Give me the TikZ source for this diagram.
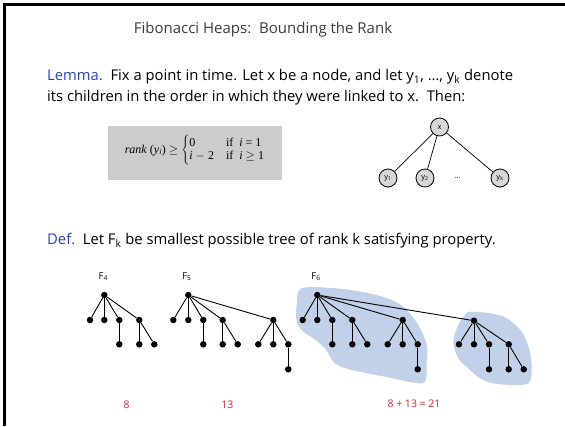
\documentclass[tikz,border=0pt]{standalone}
\usepackage{fontspec}
\setmainfont{Open Sans}
\newfontfamily\tms{Liberation Serif}
\definecolor{lemblue}{RGB}{40,70,170}
\definecolor{numred}{RGB}{210,40,45}
\definecolor{blobblue}{RGB}{193,209,233}
\definecolor{boxgray}{RGB}{204,204,204}
\definecolor{nodegray}{RGB}{215,215,215}
\definecolor{titlegray}{RGB}{60,60,60}
\tikzset{
  dot/.style={circle,fill=black,inner sep=0pt,minimum size=6.5pt},
  edge/.style={line width=0.9pt},
  gnode/.style={circle,draw=black,fill=nodegray,line width=0.8pt,inner sep=0pt,minimum size=18pt,font=\fontsize{7.5}{8}\selectfont},
  body/.style={anchor=west,inner sep=0pt,font=\fontsize{14.8}{17}\selectfont},
  lab/.style={inner sep=0pt,font=\fontsize{9.5}{11}\selectfont},
  num/.style={inner sep=0pt,text=numred,font=\fontsize{10.5}{12}\selectfont},
  blob/.style={fill=blobblue,draw=none}
}
\begin{document}
\begin{tikzpicture}[x=1pt,y=-1pt]
\useasboundingbox (0,0) rectangle (565,426);
\fill[white] (0,0) rectangle (565,426);
\draw[line width=2.5pt] (4.5,426) -- (4.5,4.5) -- (565,4.5);
% title
\node[inner sep=0pt,text=titlegray,font=\fontsize{15}{17}\selectfont] (title) at (263,30) {Fibonacci Heaps:\ \ Bounding the Rank};
% lemma
\node[body] (lem1) at (47,77) {\textcolor{lemblue}{Lemma.}\ \ Fix a point in time. Let x be a node, and let y\textsubscript{1}, \dots, y\textsubscript{k} denote};
\node[body] (lem2) at (47,98) {its children in the order in which they were linked to x.\ \ Then:};
% formula box
\node[fill=boxgray,minimum width=174pt,minimum height=54pt,inner sep=0pt] (box) at (195,153) {};
\node[inner sep=0pt,font=\tms\fontsize{12}{14}\selectfont] (form) at (195,150)
  {\textit{rank} (\textit{y\textsubscript{i}})\ $\geq$\ $\left\{\begin{array}{@{}l@{\quad}l@{}}\mbox{0} & \mbox{if \ \textit{i} = 1}\\[-1pt] \mbox{\textit{i} $-$ 2} & \mbox{if \ \textit{i} $\geq$ 1}\end{array}\right.$};
% x tree
\node[gnode] (x) at (439.5,127) {x};
\node[gnode] (y1) at (388,178) {y\textsubscript{1}};
\node[gnode] (y2) at (425,178) {y\textsubscript{2}};
\node[lab,font=\fontsize{7}{8}\selectfont] (ydots) at (457.5,178) {\dots};
\node[gnode] (yk) at (500,178) {y\textsubscript{k}};
\draw[edge,line width=0.7pt] (x) -- (y1);
\draw[edge,line width=0.7pt] (x) -- (y2);
\draw[edge,line width=0.7pt] (x) -- (yk);
% def
\node[body] (def) at (47,241) {\textcolor{lemblue}{Def.}\ \ Let F\textsubscript{k} be smallest possible tree of rank k satisfying property.};
% blobs
\fill[blob] plot[smooth cycle,tension=0.55] coordinates {(301.7,288.3) (335,288.3) (368,293) (391.7,300) (405,308.3) (418.3,325) (426.7,345) (426.7,361.7) (425,381.7) (411.7,382.3) (385,376.7) (351.7,370) (335,363.3) (325,348.3) (313.3,338.3) (303.3,331.7) (296.7,321.7) (296.7,305)};
\fill[blob] plot[smooth cycle,tension=0.55] coordinates {(470,311.7) (490,313.3) (506.7,318.3) (521.7,331.7) (530,351.7) (531.7,371.7) (528.3,383.3) (513.3,385) (493.3,383.3) (480,378.3) (468.3,368.3) (458.3,358.3) (453.3,341.7) (458.3,325) (465,315)};
% labels
\node[lab] (lF4) at (103.3,276.7) {F\textsubscript{4}};
\node[lab] (lF5) at (186.7,276.7) {F\textsubscript{5}};
\node[lab] (lF6) at (316,276.7) {F\textsubscript{6}};
% F4
\node[dot] (a) at (104.3,295) {};
\node[dot] (a1) at (90,320) {};
\node[dot] (a2) at (104.3,320) {};
\node[dot] (a3) at (119.3,320) {};
\node[dot] (a4) at (139.3,320) {};
\node[dot] (a31) at (119.3,344.3) {};
\node[dot] (a41) at (139.3,344.3) {};
\node[dot] (a42) at (154.3,344.3) {};
\foreach \t in {a1,a2,a3,a4} \draw[edge] (a) -- (\t);
\draw[edge] (a3) -- (a31);
\draw[edge] (a4) -- (a41);
\draw[edge] (a4) -- (a42);
% F5
\node[dot] (b) at (188.3,295) {};
\node[dot] (b1) at (173.3,320) {};
\node[dot] (b2) at (188.3,320) {};
\node[dot] (b3) at (203.3,320) {};
\node[dot] (b4) at (222.7,320) {};
\node[dot] (b5) at (273.3,320) {};
\node[dot] (b31) at (203.3,344.3) {};
\node[dot] (b41) at (222.7,344.3) {};
\node[dot] (b42) at (237.7,344.3) {};
\node[dot] (b51) at (258.3,344.3) {};
\node[dot] (b52) at (273.3,344.3) {};
\node[dot] (b53) at (288.3,344.3) {};
\node[dot] (b531) at (288.3,369.3) {};
\foreach \t in {b1,b2,b3,b4,b5} \draw[edge] (b) -- (\t);
\draw[edge] (b3) -- (b31);
\draw[edge] (b4) -- (b41);
\draw[edge] (b4) -- (b42);
\draw[edge] (b5) -- (b51);
\draw[edge] (b5) -- (b52);
\draw[edge] (b5) -- (b53);
\draw[edge] (b53) -- (b531);
% F6
\node[dot] (c) at (317.3,295) {};
\node[dot] (c1) at (302.7,320) {};
\node[dot] (c2) at (317.3,320) {};
\node[dot] (c3) at (332.3,320) {};
\node[dot] (c4) at (352.3,320) {};
\node[dot] (c5) at (402.7,320) {};
\node[dot] (c6) at (474,320.7) {};
\node[dot] (c31) at (332.3,344.3) {};
\node[dot] (c41) at (352.3,344.3) {};
\node[dot] (c42) at (367.3,344.3) {};
\node[dot] (c51) at (387.7,344.3) {};
\node[dot] (c52) at (402.7,344.3) {};
\node[dot] (c53) at (417.7,344.3) {};
\node[dot] (c531) at (417.7,369.3) {};
\node[dot] (c61) at (459,344.3) {};
\node[dot] (c62) at (474,344.3) {};
\node[dot] (c63) at (489,344.3) {};
\node[dot] (c64) at (508.7,344.3) {};
\node[dot] (c631) at (489,369.3) {};
\node[dot] (c641) at (508.7,369.3) {};
\node[dot] (c642) at (523.7,369.3) {};
\foreach \t in {c1,c2,c3,c4,c5,c6} \draw[edge] (c) -- (\t);
\draw[edge] (c3) -- (c31);
\draw[edge] (c4) -- (c41);
\draw[edge] (c4) -- (c42);
\draw[edge] (c5) -- (c51);
\draw[edge] (c5) -- (c52);
\draw[edge] (c5) -- (c53);
\draw[edge] (c53) -- (c531);
\foreach \t in {c61,c62,c63,c64} \draw[edge] (c6) -- (\t);
\draw[edge] (c63) -- (c631);
\draw[edge] (c64) -- (c641);
\draw[edge] (c64) -- (c642);
% numbers
\node[num] (n8) at (126.7,405) {8};
\node[num] (n13) at (227.3,405) {13};
\node[num] (n21) at (414,404) {8 + 13 = 21};
\end{tikzpicture}
\end{document}
